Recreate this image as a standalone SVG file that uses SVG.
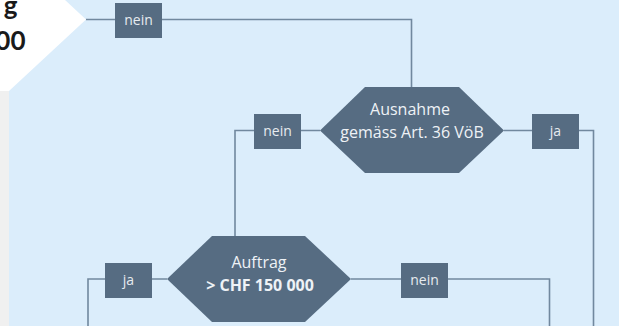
<svg xmlns="http://www.w3.org/2000/svg" width="619" height="326" viewBox="0 0 619 326">
  <style>
    .conn { fill: none; stroke: #71889e; stroke-width: 1.6; }
    .hex { fill: #566c82; }
    .box { fill: #566c82; }
    .htxt { font-family: "Open Sans", "Noto Sans", sans-serif; font-size: 16px; fill: #eef2f6; text-anchor: middle; }
    .btxt { font-family: "Open Sans", "Noto Sans", sans-serif; font-size: 14px; fill: #e6ebf0; text-anchor: middle; }
    .big { font-family: Lato, "Open Sans", sans-serif; font-size: 26px; font-weight: bold; fill: #1a1a1a; text-anchor: end; }
  </style>
  <rect x="0" y="0" width="9" height="326" fill="#f0f0f0"/>
  <rect x="9" y="0" width="610" height="326" fill="#dbedfb"/>

  <g id="start">
    <polygon points="-2,-60 0.5,-60 86,19.5 9,91 -2,91" fill="#ffffff"/>
    <text class="big" x="17.5" y="14.5">g</text>
    <text class="big" x="25.5" y="50">00</text>
  </g>

  <g id="connectors">
    <polyline class="conn" points="86,19.5 411.5,19.5 411.5,88"/>
    <polyline class="conn" points="320,130.5 235,130.5 235,236"/>
    <polyline class="conn" points="504,130.5 593.5,130.5 593.5,326"/>
    <polyline class="conn" points="167,279 88,279 88,326"/>
    <polyline class="conn" points="351,279 549.5,279 549.5,326"/>
  </g>

  <g id="label-nein-top">
    <rect class="box" x="115" y="3" width="47" height="35"/>
    <text class="btxt" x="138.5" y="25">nein</text>
  </g>

  <g id="ausnahme">
    <polygon class="hex" points="365,87 459,87 504,130.5 459,173 365,173 320,130.5"/>
    <text class="htxt" x="410" y="115">Ausnahme</text>
    <text class="htxt" x="412" y="138.3">gemäss Art. 36 VöB</text>
  </g>

  <g id="label-nein-mid">
    <rect class="box" x="254" y="114" width="47" height="35"/>
    <text class="btxt" x="277.5" y="135.5">nein</text>
  </g>

  <g id="label-ja-mid">
    <rect class="box" x="532" y="114" width="47" height="35"/>
    <text class="btxt" x="555.5" y="135.5">ja</text>
  </g>

  <g id="auftrag">
    <polygon class="hex" points="212,236 305,236 351,279 305,322 212,322 167,279"/>
    <text class="htxt" x="259" y="267.7">Auftrag</text>
    <text class="htxt" x="260" y="291" font-weight="bold">&gt; CHF 150 000</text>
  </g>

  <g id="label-ja-bottom">
    <rect class="box" x="105" y="263" width="47" height="35"/>
    <text class="btxt" x="128.5" y="284.5">ja</text>
  </g>

  <g id="label-nein-bottom">
    <rect class="box" x="401" y="263" width="47" height="35"/>
    <text class="btxt" x="424.5" y="284.5">nein</text>
  </g>
</svg>
